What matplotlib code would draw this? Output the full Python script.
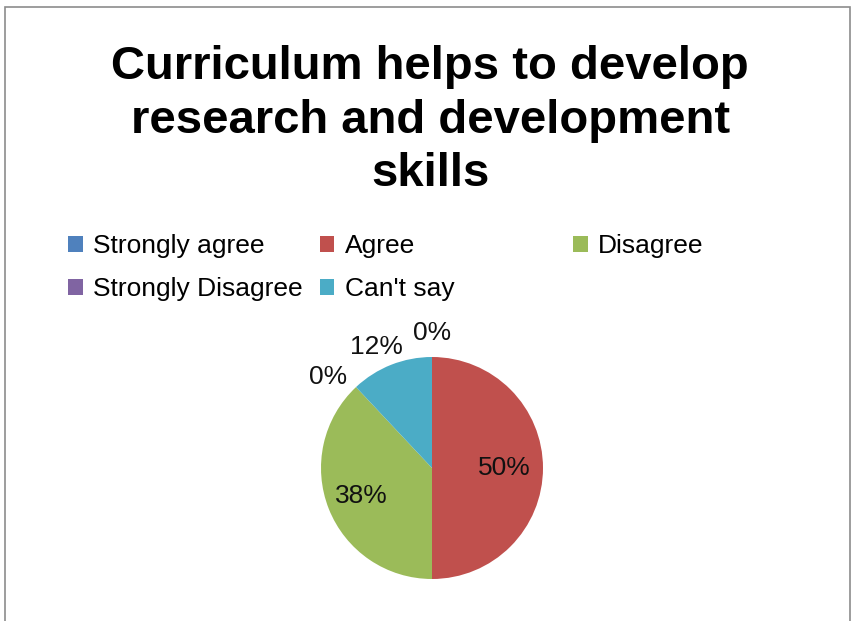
import matplotlib
matplotlib.use("Agg")
import matplotlib.pyplot as plt
import numpy as np
from matplotlib.patches import Rectangle, Patch

# ---------------------------------------------------------------------------
# Data
# ---------------------------------------------------------------------------

TITLE = "Curriculum helps to develop\nresearch and development\nskills"
categories = ["Strongly agree", "Agree", "Disagree", "Strongly Disagree", "Can't say"]
shares = [0, 50, 38, 0, 12]
labels = ["0%", "50%", "38%", "0%", "12%"]
colors = ["#4F81BD", "#C0504D", "#9BBB59", "#8064A2", "#4BACC6"]

# label placement: distance from centre (fraction of radius), angle nudge, alignment
label_dist = [1.22, 0.65, 0.68, 1.12, 1.2]
label_nudge = [0, 0, 0, 0, 3]
label_ha = ["center", "center", "center", "right", "center"]

plt.rcParams["font.family"] = ["Liberation Sans", "DejaVu Sans"]

fig = plt.figure(figsize=(8.55, 6.21), dpi=100)
W, H = 855, 621

# outer frame
fig.patches.append(Rectangle((5 / W, -0.01), 845 / W, 1 - 7 / H + 0.01,
                             transform=fig.transFigure, fill=False,
                             edgecolor="#8c8c8c", linewidth=1.2))

fig.text(0.503, 1 - 45 / H, TITLE, ha="center", va="top", fontsize=34,
         fontweight="bold", linespacing=1.28)

# pie
cx, cy, r = 432, 621 - 468, 111
ax = fig.add_axes([(cx - r) / W, (cy - r) / H, 2 * r / W, 2 * r / H])
wedges, _ = ax.pie(shares, colors=colors, startangle=90, counterclock=False,
                   radius=1.0, wedgeprops=dict(linewidth=0))
ax.set_xlim(-1, 1)
ax.set_ylim(-1, 1)
ax.set_aspect("equal")
ax.axis("off")

for w, lab, d, nudge, ha in zip(wedges, labels, label_dist, label_nudge, label_ha):
    ang = np.deg2rad((w.theta1 + w.theta2) / 2 + nudge)
    ax.text(d * np.cos(ang), d * np.sin(ang), lab, ha=ha, va="center",
            fontsize=19, color="#111111")

# legend (Excel style grid)
handles = [Patch(facecolor=c, edgecolor="none") for c in colors]
leg_kw = dict(frameon=False, fontsize=19, handlelength=0.55, handleheight=0.55,
              handletextpad=0.4, labelspacing=0.72, borderpad=0, borderaxespad=0,
              columnspacing=0.65)
order = [0, 3, 1, 4]
leg1 = fig.legend([handles[i] for i in order], [categories[i] for i in order],
                  ncol=2, loc="upper left", bbox_to_anchor=(68 / W, 1 - 234 / H), **leg_kw)
leg2 = fig.legend([handles[2]], [categories[2]], loc="upper left",
                  bbox_to_anchor=(573 / W, 1 - 234 / H), **leg_kw)

fig.savefig("out.png", dpi=100)
